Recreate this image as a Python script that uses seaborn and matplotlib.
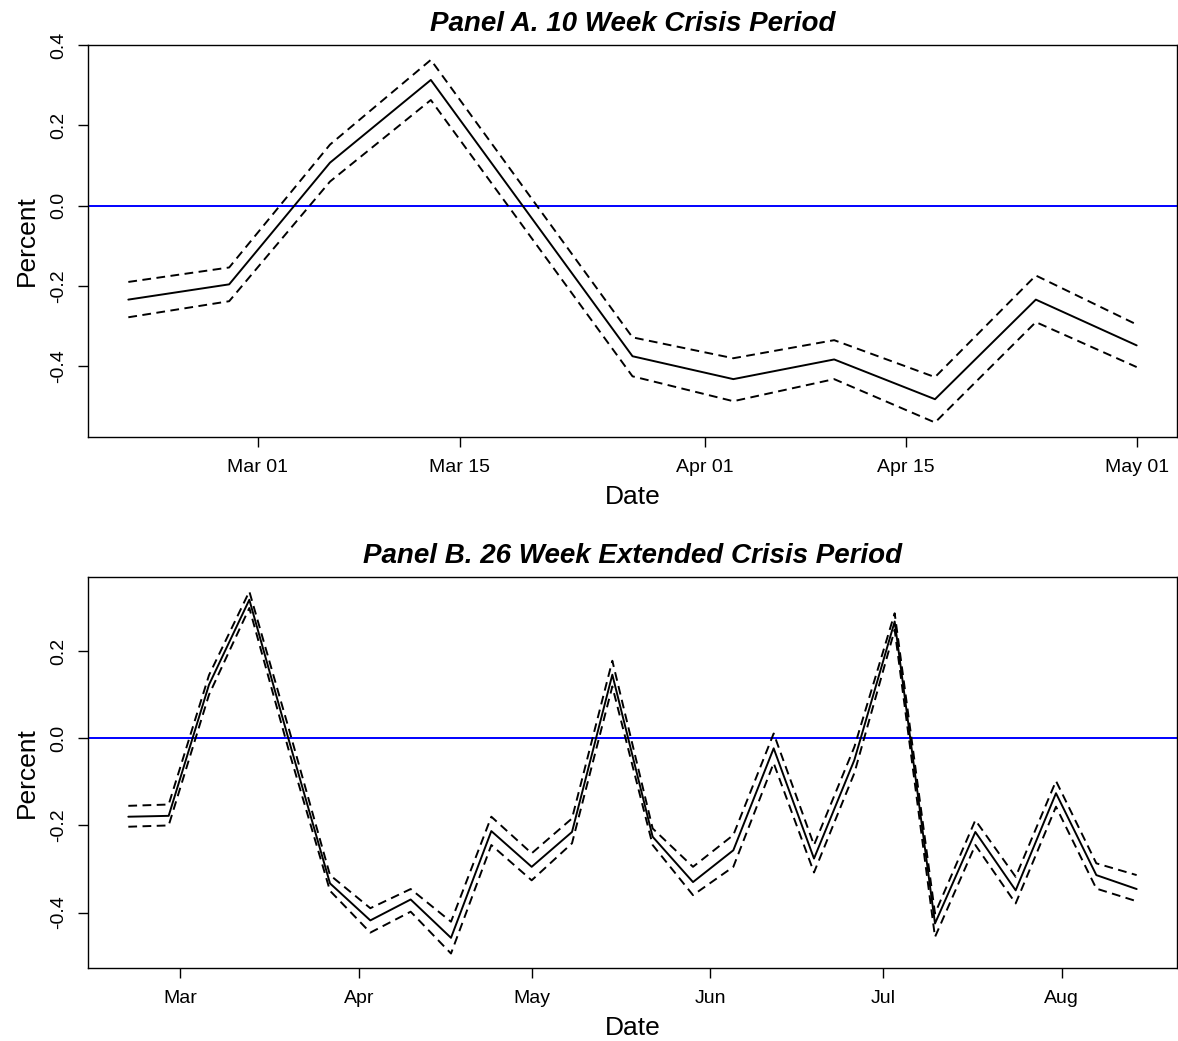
import numpy as np
import pandas as pd
import matplotlib
matplotlib.use("Agg")
import matplotlib.pyplot as plt
import matplotlib.dates as mdates
import seaborn as sns

# ---------------- data ----------------
dates_a = ["2020-02-21", "2020-02-28", "2020-03-06", "2020-03-13", "2020-03-27",
           "2020-04-03", "2020-04-10", "2020-04-17", "2020-04-24", "2020-05-01"]
est_a = [-0.234, -0.196, 0.107, 0.313, -0.375, -0.432, -0.383, -0.482, -0.234, -0.348]
upper_a = [-0.190, -0.154, 0.152, 0.363, -0.328, -0.380, -0.335, -0.427, -0.174, -0.296]
lower_a = [-0.278, -0.238, 0.060, 0.263, -0.425, -0.487, -0.432, -0.540, -0.290, -0.402]

dates_b = ["2020-02-21", "2020-02-28", "2020-03-06", "2020-03-13", "2020-03-20",
           "2020-03-27", "2020-04-03", "2020-04-10", "2020-04-17", "2020-04-24",
           "2020-05-01", "2020-05-08", "2020-05-15", "2020-05-22", "2020-05-29",
           "2020-06-05", "2020-06-12", "2020-06-19", "2020-06-26", "2020-07-03",
           "2020-07-10", "2020-07-17", "2020-07-24", "2020-07-31", "2020-08-07",
           "2020-08-14"]
est_b = [-0.180, -0.178, 0.123, 0.318, -0.011, -0.333, -0.418, -0.370, -0.458, -0.213,
         -0.295, -0.215, 0.146, -0.226, -0.330, -0.257, -0.023, -0.276, -0.050, 0.268,
         -0.425, -0.215, -0.349, -0.126, -0.314, -0.346]
upper_b = [-0.155, -0.152, 0.145, 0.337, 0.015, -0.314, -0.390, -0.346, -0.421, -0.180,
           -0.264, -0.184, 0.178, -0.207, -0.295, -0.222, 0.011, -0.245, -0.020, 0.287,
           -0.402, -0.188, -0.318, -0.098, -0.287, -0.314]
lower_b = [-0.203, -0.200, 0.100, 0.299, -0.035, -0.350, -0.446, -0.398, -0.494, -0.245,
           -0.326, -0.241, 0.119, -0.245, -0.360, -0.295, -0.057, -0.308, -0.080, 0.249,
           -0.456, -0.245, -0.379, -0.157, -0.345, -0.374]

ticks_a = ["2020-03-01", "2020-03-15", "2020-04-01", "2020-04-15", "2020-05-01"]
ticks_b = ["2020-03-01", "2020-04-01", "2020-05-01", "2020-06-01", "2020-07-01", "2020-08-01"]
yticks_a = [-0.4, -0.2, 0.0, 0.2, 0.4]
yticks_b = [-0.4, -0.2, 0.0, 0.2]

title_a = "Panel A. 10 Week Crisis Period"
title_b = "Panel B. 26 Week Extended Crisis Period"

# ---------------- style ----------------
sns.set_style("ticks")
plt.rcParams["font.family"] = ["Liberation Sans", "DejaVu Sans"]
plt.rcParams["text.color"] = "black"
plt.rcParams["axes.labelcolor"] = "black"
plt.rcParams["xtick.labelcolor"] = "black"
plt.rcParams["ytick.labelcolor"] = "black"

W, H = 1178, 1041
fig = plt.figure(figsize=(W / 100, H / 100), dpi=100)


def make_panel(rect, dates, est, upper, lower, ticks, fmt, yticks, title):
    ax = fig.add_axes(rect)
    d = pd.to_datetime(dates)
    df = pd.DataFrame({"Date": d, "est": est, "upper": upper, "lower": lower})
    sns.lineplot(data=df, x="Date", y="upper", ax=ax, color="black", lw=1.4,
                 linestyle=(0, (4.5, 2.8)), errorbar=None)
    sns.lineplot(data=df, x="Date", y="lower", ax=ax, color="black", lw=1.4,
                 linestyle=(0, (4.5, 2.8)), errorbar=None)
    sns.lineplot(data=df, x="Date", y="est", ax=ax, color="black", lw=1.4,
                 errorbar=None)
    ax.axhline(0, color="#0000ff", lw=1.4, zorder=1)

    # R-style 4% extension
    x0, x1 = mdates.date2num(d.min()), mdates.date2num(d.max())
    dx = (x1 - x0) * 0.04
    ax.set_xlim(x0 - dx, x1 + dx)
    allv = np.concatenate([est, upper, lower])
    lo, hi = allv.min(), allv.max()
    dy = (hi - lo) * 0.04
    ax.set_ylim(lo - dy, hi + dy)

    tk = pd.to_datetime(ticks)
    ax.set_xticks(tk)
    ax.xaxis.set_major_formatter(mdates.DateFormatter(fmt))
    ax.set_yticks(yticks)
    ax.set_yticklabels([f"{v:.1f}" for v in yticks], rotation=90, va="center")
    ax.tick_params(axis="both", direction="out", length=7, width=1,
                   labelsize=14, color="black", labelcolor="black")
    ax.tick_params(axis="x", pad=9)
    ax.tick_params(axis="y", pad=8)
    for s in ax.spines.values():
        s.set_visible(True)
        s.set_color("black")
        s.set_linewidth(1.0)
    ax.set_xlabel("Date", fontsize=19, labelpad=6, color="black")
    ax.set_ylabel("Percent", fontsize=19, labelpad=8, color="black")
    ax.set_title(title, fontsize=20, fontweight="bold", fontstyle="italic",
                 pad=10, color="black")
    ax.grid(False)
    return ax


rect_a = [88 / W, 1 - 437 / H, 1089 / W, 392 / H]
rect_b = [88 / W, 1 - 968 / H, 1089 / W, 391 / H]
make_panel(rect_a, dates_a, est_a, upper_a, lower_a, ticks_a, "%b %d", yticks_a, title_a)
make_panel(rect_b, dates_b, est_b, upper_b, lower_b, ticks_b, "%b", yticks_b, title_b)

fig.savefig("out.png", dpi=100)
